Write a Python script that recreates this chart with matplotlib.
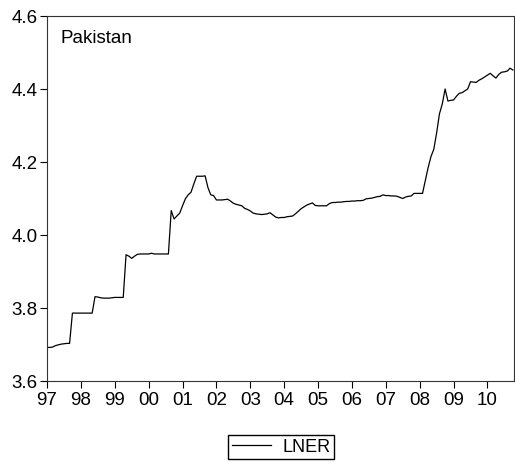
import matplotlib
matplotlib.use('Agg')
import matplotlib.pyplot as plt
import numpy as np

plt.rcParams['font.family'] = ['Liberation Sans', 'DejaVu Sans']

# monthly LNER, 1997M01 - 2010M10
lner_1997 = [3.692, 3.692, 3.693, 3.697, 3.699, 3.701, 3.702, 3.703, 3.703, 3.786, 3.786, 3.786]
lner_1998 = [3.786, 3.786, 3.786, 3.786, 3.786, 3.831, 3.830, 3.828, 3.827, 3.827, 3.827, 3.828]
lner_1999 = [3.829, 3.829, 3.829, 3.829, 3.946, 3.942, 3.936, 3.942, 3.947, 3.948, 3.948, 3.948]
lner_2000 = [3.948, 3.950, 3.948, 3.948, 3.948, 3.948, 3.948, 3.948, 4.067, 4.044, 4.052, 4.060]
lner_2001 = [4.080, 4.099, 4.110, 4.117, 4.140, 4.161, 4.161, 4.161, 4.162, 4.130, 4.110, 4.108]
lner_2002 = [4.096, 4.096, 4.096, 4.097, 4.098, 4.093, 4.087, 4.084, 4.082, 4.080, 4.073, 4.070]
lner_2003 = [4.066, 4.060, 4.058, 4.057, 4.056, 4.057, 4.058, 4.061, 4.055, 4.049, 4.047, 4.048]
lner_2004 = [4.048, 4.050, 4.051, 4.052, 4.058, 4.065, 4.072, 4.077, 4.082, 4.085, 4.088, 4.081]
lner_2005 = [4.080, 4.080, 4.080, 4.080, 4.086, 4.089, 4.089, 4.090, 4.090, 4.091, 4.092, 4.092]
lner_2006 = [4.093, 4.093, 4.094, 4.094, 4.095, 4.099, 4.100, 4.101, 4.103, 4.105, 4.106, 4.110]
lner_2007 = [4.108, 4.108, 4.107, 4.107, 4.106, 4.103, 4.100, 4.104, 4.106, 4.107, 4.114, 4.114]
lner_2008 = [4.114, 4.114, 4.150, 4.185, 4.215, 4.235, 4.280, 4.332, 4.359, 4.400, 4.367, 4.369]
lner_2009 = [4.370, 4.380, 4.388, 4.390, 4.395, 4.400, 4.420, 4.419, 4.418, 4.424, 4.428, 4.433]
lner_2010 = [4.438, 4.443, 4.436, 4.430, 4.440, 4.446, 4.447, 4.449, 4.457, 4.452]

year_labels = ['97', '98', '99', '00', '01', '02', '03', '04', '05', '06', '07', '08', '09', '10']
y_ticks = [3.6, 3.8, 4.0, 4.2, 4.4, 4.6]

lner = (lner_1997 + lner_1998 + lner_1999 + lner_2000 + lner_2001 + lner_2002 + lner_2003
        + lner_2004 + lner_2005 + lner_2006 + lner_2007 + lner_2008 + lner_2009 + lner_2010)
months = np.arange(len(lner))

fig = plt.figure(figsize=(5.15, 4.64), dpi=100)
ax = fig.add_axes([47 / 515, 1 - 382 / 464, 467 / 515, 365 / 464])

ax.plot(months, lner, color='black', lw=0.9, label='LNER')

ax.set_xlim(0, len(lner) - 0.6)
ax.set_ylim(3.6, 4.6)
ax.set_xticks(np.arange(len(year_labels)) * 12)
ax.set_xticklabels(year_labels)
ax.set_yticks(y_ticks)
ax.set_yticklabels(['%.1f' % v for v in y_ticks])
ax.tick_params(direction='out', length=5, width=0.8, labelsize=13.5, colors='black', pad=2)
for s in ax.spines.values():
    s.set_linewidth(0.8)
    s.set_color('#333333')

ax.text(0.028, 0.965, 'Pakistan', transform=ax.transAxes, fontsize=13.5, va='top', ha='left')

fig.legend(loc='center', bbox_to_anchor=(281 / 515, 1 - 448 / 464), fontsize=13,
           fancybox=False, edgecolor='black', framealpha=1, handlelength=2.2,
           borderpad=0.2, handletextpad=0.6)

fig.savefig('out.png', dpi=100)
